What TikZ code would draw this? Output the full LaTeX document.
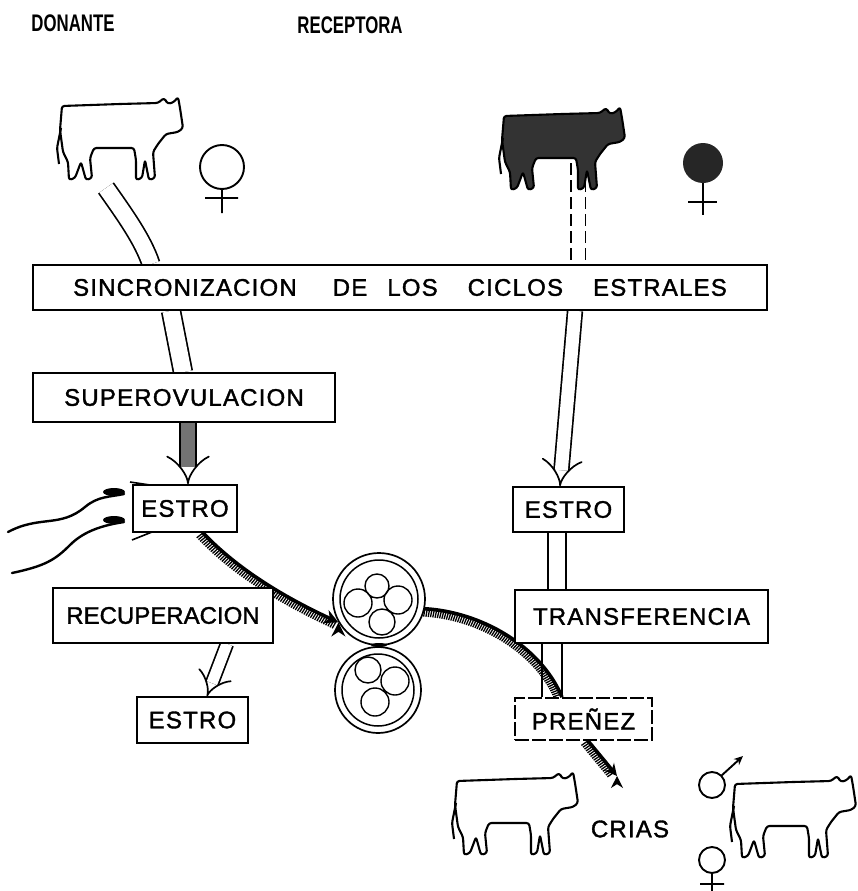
\documentclass[tikz,border=0pt]{standalone}
\usepackage{fontspec}
\setmainfont{Liberation Sans}
\newfontfamily\lbl[LetterSpace=5,FakeBold=1.5]{Liberation Sans}
\newfontfamily\lbltight[FakeBold=1.5]{Liberation Sans}
\usetikzlibrary{arrows.meta,decorations.pathreplacing,backgrounds,calc}
\tikzset{
  box/.style={draw, line width=1.7pt, fill=white, inner sep=0pt, font=\lbl\fontsize{24}{24}\selectfont},
  hdr/.style={inner sep=0pt, font=\bfseries\fontsize{24}{24}\selectfont},
  dbl/.style={double=white, double distance=#1, line width=1.7pt},
  hollow/.style={dbl=#1, -{Implies}},
  hairy/.style={line width=3.6pt, postaction={draw, line width=1.3pt, decorate,
     decoration={border, segment length=2.4pt, amplitude=8pt, angle=-95}}},
  sym/.style={line width=1.9pt},
  cowline/.style={line width=2.1pt, rounded corners=2.5pt, line join=round},
  cow/.pic={
    \draw[cowline, pic actions] (2,6) -- (60,4) -- (98,3) -- (104,-2) -- (108,4) -- (114,2) -- (118,-3)
      -- (120,8) -- (123,28) -- (118,32) -- (106,34) -- (98,44) -- (93,52) -- (95,78) -- (89,80)
      -- (85,60) -- (82,78) -- (76,80) -- (76,60) -- (74,48) -- (34,48) -- (30,58) -- (32,78)
      -- (26,80) -- (21,62) -- (15,78) -- (9,80) -- (8,62) -- (3,52) -- (0,30) -- cycle;
    \draw[cowline] (1,28) -- (-3,48) -- (-1,64);
  }
}
\begin{document}
\begin{tikzpicture}[x=1pt,y=-1pt]
\useasboundingbox (0,0) rectangle (858,891);

% headers
\node[hdr] (don) at (73,23) {\scalebox{0.7}[1]{DONANTE}};
\node[hdr] (rec) at (350,25) {\scalebox{0.7}[1]{RECEPTORA}};

% boxes
\node[box, minimum width=734pt, minimum height=45pt] (sync) at (400,287.5)
  {SINCRONIZACION\hspace{36pt}DE\hspace{20pt}LOS\hspace{30pt}CICLOS\hspace{30pt}ESTRALES};
\node[box, minimum width=302pt, minimum height=49pt] (superov) at (184,397.5) {SUPEROVULACION};
\node[box, minimum width=104pt, minimum height=47pt] (estroL) at (185,508.5) {ESTRO};
\node[box, minimum width=220pt, minimum height=55pt, font=\lbltight\fontsize{24}{24}\selectfont] (recup) at (163,615.5) {RECUPERACION};
\node[box, minimum width=111pt, minimum height=46pt] (estroL2) at (192.5,720) {ESTRO};
\node[box, minimum width=111pt, minimum height=45pt] (estroR) at (568.5,509.5) {ESTRO};
\node[box, minimum width=253pt, minimum height=53pt] (transf) at (641.5,616.5) {TRANSFERENCIA};
\node[box, dashed, dash pattern=on 14pt off 3pt, minimum width=137pt, minimum height=42pt] (prenez) at (583.5,719) {PREÑEZ};
\node[inner sep=0pt, font=\lbl\fontsize{24}{24}\selectfont] (crias) at (630,829) {CRIAS};

% embryos
\node[circle, draw, line width=1.7pt, minimum size=92pt, inner sep=0pt] (emb1) at (379,599) {};
\node[circle, draw, line width=1.7pt, minimum size=86pt, inner sep=0pt] (emb2) at (378,690) {};
\draw[line width=1.5pt] (emb1.center) circle (39pt);
\draw[line width=1.5pt] (emb2.center) circle (36pt);
\draw[line width=1.4pt] (358,603) circle (14pt) (377,586) circle (12pt) (398,600) circle (14pt) (382,622) circle (13pt);
\draw[line width=1.4pt] (368,670) circle (13pt) (395,681) circle (14pt) (375,702) circle (14pt);
\fill (379,645) ellipse (8pt and 2pt);

% cows
\pic at (60,100) {cow};
\pic[fill=black!80] at (502,110) {cow};
\pic at (455,775) {cow};
\pic at (733,778) {cow};
\coordinate (dcow) at (106,188);
\coordinate (rcow) at (578,163);
\coordinate (calves) at (617,776);

% sex symbols
\draw[sym] (222,167) circle (22pt) (222,189) -- (222,213) (205,198) -- (238,198);
\fill[black!85] (703,163) circle (20pt);
\draw[sym] (703,183) -- (703,215) (688,202) -- (717,202);
\draw[sym] (712,785) circle (13pt);
\draw[sym, -{Stealth[length=9pt,width=8pt]}] (721,776) -- (743,756);
\draw[sym] (712,860) circle (13pt) (712,873) -- (712,891) (700,884) -- (724,884);

% hand
\draw[line width=2.4pt, line cap=round] (8,532) .. controls (40,515) and (60,528) .. (85,507) .. controls (98,496) and (110,497) .. (124,494);
\fill (114,492) ellipse (11pt and 4pt);
\draw[line width=2.4pt, line cap=round] (12,573) .. controls (45,566) and (55,560) .. (70,545) .. controls (85,530) and (105,525) .. (124,522);
\fill (114,520) ellipse (11pt and 4pt);
\draw[line width=1.6pt] (130,482) -- (150,485);
\draw[line width=1.6pt] (132,540) -- (152,532);

% connectors
\begin{scope}[on background layer]
\draw[dbl=16pt] (dcow) .. controls (125,215) and (143,240) .. (sync.north -| 151,0);
\draw[dbl=17pt] (sync.south -| 171,0) -- (superov.north -| 183,0);
\draw[hollow=14pt, double=black!55] (superov.south -| 188,0) -- (estroL.north -| 188,0);
\draw[dbl=13pt, dashed, dash pattern=on 12pt off 5pt] (rcow) -- (sync.north -| 578,0);
\draw[hollow=13pt] (sync.south -| 575,0) -- (estroR.north -| 560,0);
\draw[dbl=16pt] (estroR.south -| 557,0) -- (transf.north -| 557,0);
\draw[dbl=18pt] (transf.south -| 552,0) -- (prenez.north -| 552,0);
\draw[hollow=11pt] (recup.south -| 227,0) -- (estroL2.north -| 207,0);
\draw[hairy, -{Stealth[length=14pt,width=14pt]}] (estroL.south -| 203,0) .. controls (240,572) and (290,600) .. (emb1.210);
\draw[hairy] (emb1.-12) .. controls (480,612) and (540,645) .. (prenez.north -| 562,0);
\draw[hairy, -{Stealth[length=12pt,width=12pt]}] (prenez.south -| 588,0) -- (calves);
\end{scope}
\end{tikzpicture}
\end{document}
